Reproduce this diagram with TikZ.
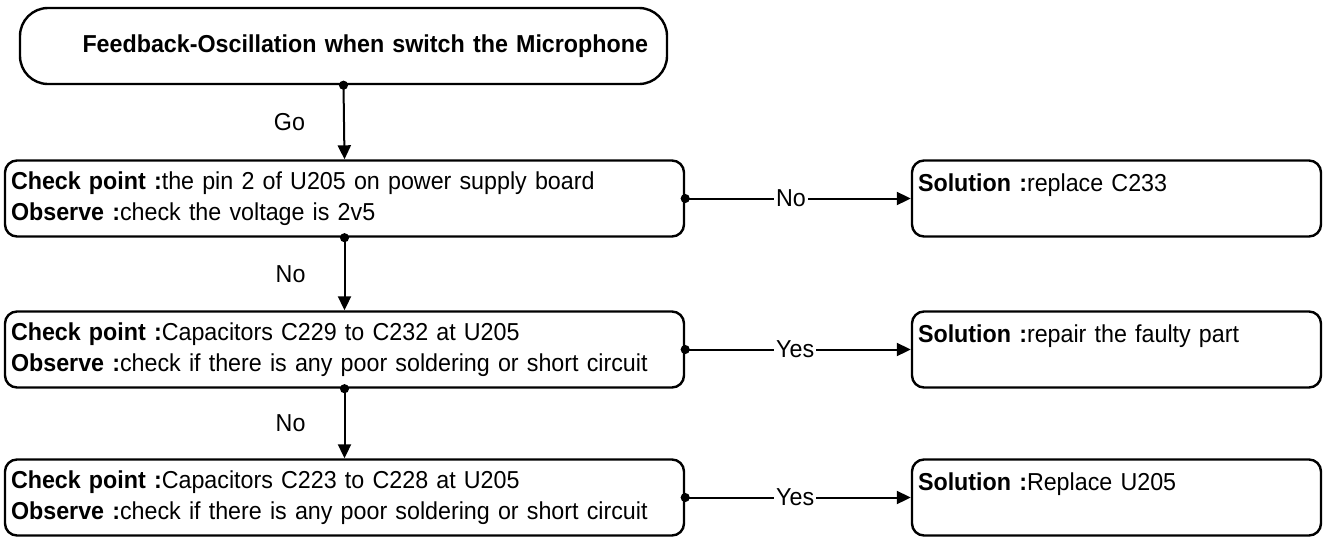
\documentclass[tikz,border=0pt]{standalone}
\usepackage{fontspec}
\setmainfont{Liberation Sans}[FakeStretch=0.95]
\usetikzlibrary{arrows.meta}

\tikzset{
  chkbox/.style={draw, line width=2.4pt, rounded corners=12pt, minimum width=679pt, minimum height=76pt,
    text width=667pt, align=left, inner xsep=6pt, font=\fontsize{24.5}{31}\selectfont},
  solbox/.style={chkbox, minimum width=409pt, text width=397pt},
  titlebox/.style={draw, line width=2.4pt, rounded corners=28pt, minimum width=647pt, minimum height=76pt,
    text width=609pt, align=right, inner xsep=19pt, font=\bfseries\fontsize{24.5}{31}\selectfont},
  link/.style={line width=2pt, {Circle[length=9pt]}-{Triangle[length=14pt,width=13pt]}, shorten <=-4.5pt},
  lbl/.style={font=\fontsize{24.5}{31}\selectfont, inner sep=0pt},
  hlbl/.style={lbl, anchor=west, fill=white, inner xsep=2pt, inner ysep=3pt},
}

\begin{document}
\begin{tikzpicture}[x=1pt,y=-1pt]
\useasboundingbox (0,0) rectangle (1323,536);

% start
\node[titlebox] (start) at (343.5,46) {Feedback-Oscillation when switch the Microphone};

% check points
\node[chkbox] (chk1) at (344.5,198.5) {\textbf{Check point :}the pin 2 of U205 on power supply board\\\textbf{Observe :}check the voltage is 2v5};
\node[chkbox] (chk2) at (344.5,349.5) {\textbf{Check point :}Capacitors C229 to C232 at U205\\\textbf{Observe :}check if there is any poor soldering or short circuit};
\node[chkbox] (chk3) at (344.5,497.5) {\textbf{Check point :}Capacitors C223 to C228 at U205\\\textbf{Observe :}check if there is any poor soldering or short circuit};

% solutions
\node[solbox] (sol1) at (1116.5,198.5) {\textbf{Solution :}replace C233\\\mbox{}};
\node[solbox] (sol2) at (1116.5,349.5) {\textbf{Solution :}repair the faulty part\\\mbox{}};
\node[solbox] (sol3) at (1116.5,497.5) {\textbf{Solution :}Replace U205\\\mbox{}};

% flow
\draw[link] (start.south) -- node[lbl, left=38pt] {Go} (chk1.north);
\draw[link] (chk1.south) -- node[lbl, left=38pt] {No} (chk2.north);
\draw[link] (chk2.south) -- node[lbl, left=38pt] {No} (chk3.north);

\draw[link] (chk1.east) -- node[hlbl, pos=0.39] {No\hspace{12pt}} (sol1.west);
\draw[link] (chk2.east) -- node[hlbl, pos=0.39] {Yes\hspace{12pt}} (sol2.west);
\draw[link] (chk3.east) -- node[hlbl, pos=0.39] {Yes\hspace{12pt}} (sol3.west);
\end{tikzpicture}
\end{document}
